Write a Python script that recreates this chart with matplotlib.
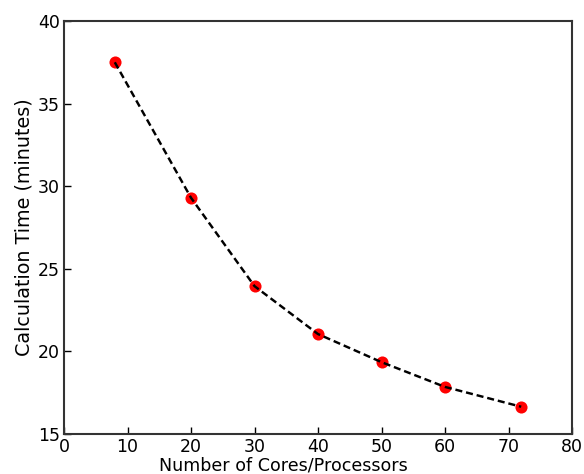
import matplotlib
matplotlib.use("Agg")
import matplotlib.pyplot as plt

cores = [8, 20, 30, 40, 50, 60, 72]
minutes = [37.5, 29.3, 23.95, 21.05, 19.35, 17.85, 16.65]
xticks = [0, 10, 20, 30, 40, 50, 60, 70, 80]
yticks = [15, 20, 25, 30, 35, 40]

fig = plt.figure(figsize=(5.84, 4.74), dpi=100)
ax = fig.add_axes([64/584, 1-434/474, (572-64)/584, (434-21)/474])
ax.plot(cores, minutes, 'o', color='red', markersize=8.7, markeredgewidth=0, zorder=2)
ax.plot(cores, minutes, '--', color='black', linewidth=1.75, dashes=(2.9, 1.6), zorder=3)
ax.set_xlim(0, 80)
ax.set_ylim(15, 40)
ax.set_xticks(xticks)
ax.set_yticks(yticks)
ax.tick_params(direction='in', labelsize=12.5, length=5, width=1, pad=3, top=False, right=False)
for s in ax.spines.values():
    s.set_linewidth(1.5)
    s.set_color('#333333')
ax.set_xlabel('Number of Cores/Processors', fontsize=12.6, labelpad=0)
ax.xaxis.set_label_coords(0.431, -0.055, transform=ax.transAxes)
ax.xaxis.label.set_va('top')
ax.set_ylabel('Calculation Time (minutes)', fontsize=13.8, labelpad=3)
fig.savefig('out.png', dpi=100)
